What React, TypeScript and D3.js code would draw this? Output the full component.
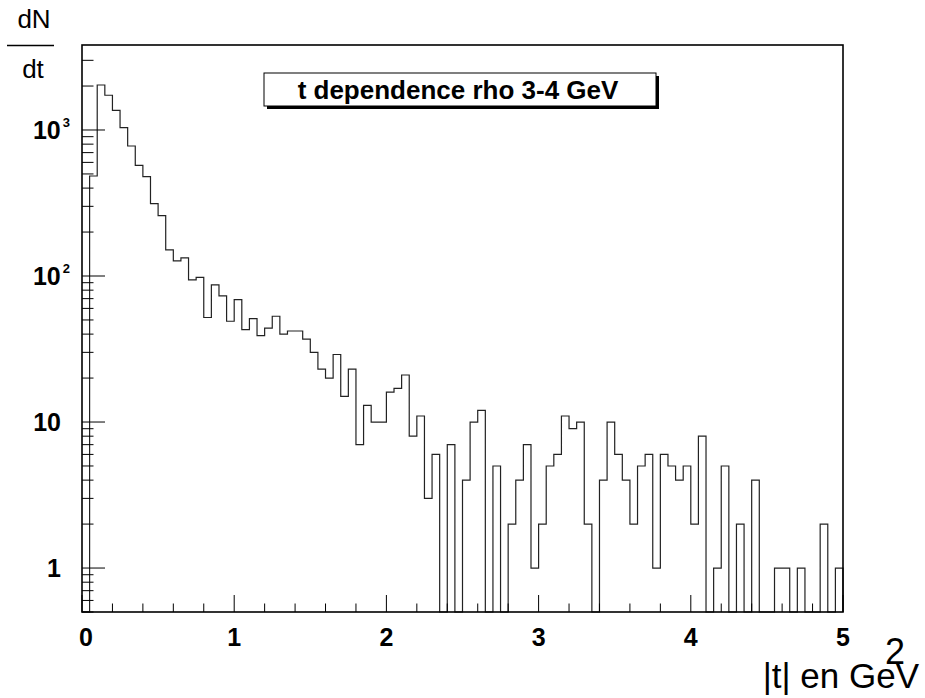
import React, { useEffect, useRef } from 'react';
import * as d3 from 'd3';

// counts per bin, 100 bins of 0.05 from 0 to 5
const binEdgesStart = 0;
const binWidth = 0.05;
const counts = [
  0, 484, 2033, 1729, 1364, 1037, 777, 573, 479, 313,
  259, 151, 127, 133, 94, 98, 52, 87, 73, 49,
  69, 43, 51, 39, 44, 53, 40, 42, 42, 37,
  30, 23, 20, 29, 15, 23, 7, 13, 10, 10,
  16, 17, 21, 8, 11, 3, 6, 0, 7, 0,
  4, 10, 12, 0, 5, 0, 2, 4, 7, 1,
  2, 5, 6, 11, 9, 10, 2, 0, 4, 10,
  6, 4, 2, 5, 6, 1, 6, 5, 4, 5,
  2, 8, 0, 1, 5, 0, 2, 0, 4, 0,
  0, 1, 1, 0, 1, 0, 0, 2, 0, 1,
];

const xTicksMajor = [0, 1, 2, 3, 4, 5];
const yTicksMajor = [1, 10, 100, 1000];
const yTickLabels = [
  { v: 1, base: '1', exp: '' },
  { v: 10, base: '10', exp: '' },
  { v: 100, base: '10', exp: '2' },
  { v: 1000, base: '10', exp: '3' },
];
const title = 't dependence rho 3-4 GeV';
const xTitle = '|t| en GeV';

const FONT = '"Liberation Sans", Arial, Helvetica, sans-serif';

const App: React.FC = () => {
  const svgRef = useRef<SVGSVGElement>(null);

  useEffect(() => {
    const svg = d3.select(svgRef.current);
    svg.selectAll('*').remove();

    const left = 82, right = 843, top = 45, bottom = 612;
    const yMin = 0.5, yMax = 3820;

    const x = d3.scaleLinear().domain([0, 5]).range([left, right]);
    const y = d3.scaleLog().domain([yMin, yMax]).range([bottom, top]);

    // histogram outline
    const pts: [number, number][] = [[x(binEdgesStart), bottom]];
    counts.forEach((c, i) => {
      const x0 = binEdgesStart + i * binWidth;
      const yy = c > 0 ? y(c) : bottom;
      pts.push([x(x0), yy]);
      pts.push([x(x0 + binWidth), yy]);
    });
    pts.push([x(binEdgesStart + counts.length * binWidth), bottom]);

    svg.append('path')
      .attr('d', d3.line()(pts))
      .attr('fill', 'none')
      .attr('stroke', '#222')
      .attr('stroke-width', 1.2);

    // frame
    svg.append('rect')
      .attr('x', left)
      .attr('y', top)
      .attr('width', right - left)
      .attr('height', bottom - top)
      .attr('fill', 'none')
      .attr('stroke', '#000')
      .attr('stroke-width', 1.6);

    // x ticks
    const xMinor = d3.range(0, 5.0001, 0.2).filter(v => Math.abs(v - Math.round(v)) > 1e-6);
    xMinor.forEach(v => {
      svg.append('line')
        .attr('x1', x(v)).attr('x2', x(v))
        .attr('y1', bottom).attr('y2', bottom - 8.5)
        .attr('stroke', '#000').attr('stroke-width', 1);
    });
    xTicksMajor.forEach(v => {
      svg.append('line')
        .attr('x1', x(v)).attr('x2', x(v))
        .attr('y1', bottom).attr('y2', bottom - 17)
        .attr('stroke', '#000').attr('stroke-width', 1);
      svg.append('text')
        .attr('x', x(v) + (v === 0 ? 4 : 0))
        .attr('y', 646)
        .attr('text-anchor', 'middle')
        .attr('font-family', FONT)
        .attr('font-weight', 'bold')
        .attr('font-size', 25)
        .text(String(v));
    });

    // y ticks
    const yMinor: number[] = [];
    [0.1, 1, 10, 100, 1000].forEach(dec => {
      for (let k = 2; k <= 9; k++) {
        const v = dec * k;
        if (v >= yMin && v <= yMax) yMinor.push(v);
      }
    });
    yMinor.forEach(v => {
      svg.append('line')
        .attr('x1', left).attr('x2', left + 11.5)
        .attr('y1', y(v)).attr('y2', y(v))
        .attr('stroke', '#000').attr('stroke-width', 1);
    });
    yTicksMajor.forEach(v => {
      svg.append('line')
        .attr('x1', left).attr('x2', left + 23)
        .attr('y1', y(v)).attr('y2', y(v))
        .attr('stroke', '#000').attr('stroke-width', 1);
    });
    yTickLabels.forEach(d => {
      const t = svg.append('text')
        .attr('x', d.exp ? 70 : 61)
        .attr('y', y(d.v) + 9)
        .attr('text-anchor', 'end')
        .attr('font-family', FONT)
        .attr('font-weight', 'bold')
        .attr('font-size', 25)
        .text(d.base);
      if (d.exp) {
        t.append('tspan')
          .attr('dx', 2)
          .attr('dy', -12)
          .attr('font-size', 13)
          .text(d.exp);
      }
    });

    // y axis title dN/dt
    svg.append('text')
      .attr('x', 34).attr('y', 28)
      .attr('text-anchor', 'middle')
      .attr('font-family', FONT)
      .attr('font-size', 26)
      .text('dN');
    svg.append('line')
      .attr('x1', 7).attr('x2', 54)
      .attr('y1', 45.5).attr('y2', 45.5)
      .attr('stroke', '#000').attr('stroke-width', 1.5);
    svg.append('text')
      .attr('x', 33).attr('y', 78)
      .attr('text-anchor', 'middle')
      .attr('font-family', FONT)
      .attr('font-size', 26)
      .text('dt');

    // x axis title
    svg.append('text')
      .attr('x', 919).attr('y', 688)
      .attr('text-anchor', 'end')
      .attr('font-family', FONT)
      .attr('font-size', 35)
      .text(xTitle);
    svg.append('text')
      .attr('x', 885).attr('y', 664)
      .attr('font-family', FONT)
      .attr('font-size', 36)
      .text('2');

    // title box with shadow
    const bx = 264, by = 73, bw = 392, bh = 33;
    svg.append('rect')
      .attr('x', bx + 3).attr('y', by + 3)
      .attr('width', bw).attr('height', bh)
      .attr('fill', '#000');
    svg.append('rect')
      .attr('x', bx).attr('y', by)
      .attr('width', bw).attr('height', bh)
      .attr('fill', '#fff')
      .attr('stroke', '#000')
      .attr('stroke-width', 1);
    svg.append('text')
      .attr('x', bx + bw / 2 - 2).attr('y', by + 26)
      .attr('text-anchor', 'middle')
      .attr('font-family', FONT)
      .attr('font-weight', 'bold')
      .attr('font-size', 26)
      .text(title);
  }, []);

  return (
    <div style={{ position: 'fixed', left: 0, top: 0, width: 925, height: 698, background: '#fff' }}>
      <svg ref={svgRef} width={925} height={698} style={{ display: 'block' }}></svg>
    </div>
  );
};

export default App;
